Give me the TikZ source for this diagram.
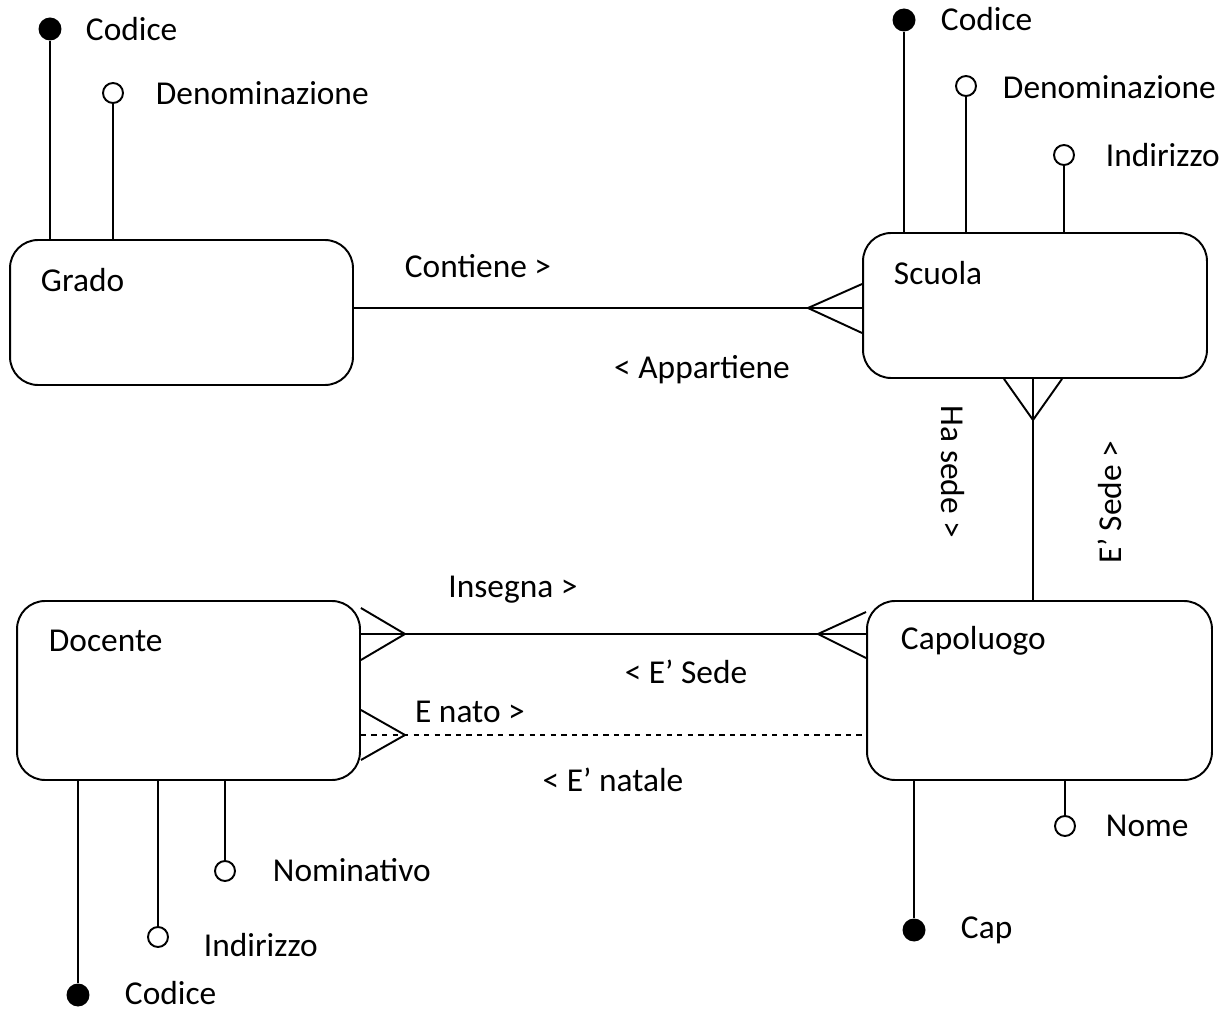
\documentclass[tikz,border=0pt]{standalone}
\usepackage{fontspec}
\setmainfont{Carlito}
\begin{document}
\begin{tikzpicture}[x=0.02cm,y=-0.02cm,line width=1.1pt,
	entity/.style={draw,rounded corners=0.56cm,inner sep=0pt},
	txt/.style={inner sep=0pt,font=\fontsize{19}{23}\selectfont},
	keyattr/.style={circle,fill,inner sep=0pt,minimum size=0.46cm},
	optattr/.style={circle,draw,fill=white,inner sep=0pt,minimum size=0.4cm}]
	\useasboundingbox (0,0) rectangle (1228,1013);
%	entita'
	\node[entity,minimum width=6.86cm,minimum height=2.9cm] (grado) at (181.5,312.5) {};
	\node[entity,minimum width=6.88cm,minimum height=2.9cm] (scuola) at (1035,305.5) {};
	\node[entity,minimum width=6.86cm,minimum height=3.58cm] (docente) at (188.5,690.5) {};
	\node[entity,minimum width=6.9cm,minimum height=3.58cm] (capoluogo) at (1039.5,690.5) {};
	\node[txt,anchor=west] (gradoT) at (40,280) {Grado};
	\node[txt,anchor=west] (scuolaT) at (893,273) {Scuola};
	\node[txt,anchor=west] (docenteT) at (48,641) {Docente};
	\node[txt,anchor=west] (capoluogoT) at (900,641) {Capoluogo};
%	attributi Grado
	\node[keyattr] (gcod) at (50,29) {};
	\node[optattr] (gden) at (113,93) {};
	\draw (gcod) -- (gcod |- grado.north);
	\draw (gden) -- (gden |- grado.north);
	\node[txt,anchor=west] (gcodT) at (85,29) {Codice};
	\node[txt,anchor=west] (gdenT) at (155,93) {Denominazione};
%	attributi Scuola
	\node[keyattr] (scod) at (904,20) {};
	\node[optattr] (sden) at (966,86) {};
	\node[optattr] (sind) at (1064,155) {};
	\draw (scod) -- (scod |- scuola.north);
	\draw (sden) -- (sden |- scuola.north);
	\draw (sind) -- (sind |- scuola.north);
	\node[txt,anchor=west] (scodT) at (940,19) {Codice};
	\node[txt,anchor=west] (sdenT) at (1002,87) {Denominazione};
	\node[txt,anchor=west] (sindT) at (1105,155) {Indirizzo};
%	attributi Docente
	\node[optattr] (dnom) at (225,871) {};
	\node[optattr] (dind) at (158,937) {};
	\node[keyattr] (dcod) at (78,995) {};
	\draw (dnom) -- (dnom |- docente.south);
	\draw (dind) -- (dind |- docente.south);
	\draw (dcod) -- (dcod |- docente.south);
	\node[txt,anchor=west] (dnomT) at (272,870) {Nominativo};
	\node[txt,anchor=west] (dindT) at (203,945) {Indirizzo};
	\node[txt,anchor=west] (dcodT) at (124,993) {Codice};
%	attributi Capoluogo
	\node[optattr] (cnom) at (1065,826) {};
	\node[keyattr] (ccap) at (914,930) {};
	\draw (cnom) -- (cnom |- capoluogo.south);
	\draw (ccap) -- (ccap |- capoluogo.south);
	\node[txt,anchor=west] (cnomT) at (1105,826) {Nome};
	\node[txt,anchor=west] (ccapT) at (960,930) {Cap};
%	Grado - Scuola
	\coordinate (gs) at (808,308);
	\draw (grado.east |- gs) -- (scuola.west |- gs);
	\draw (scuola.west |- 0,284) -- (gs) -- (scuola.west |- 0,333);
	\node[txt] (contiene) at (478,266) {Contiene >};
	\node[txt] (appartiene) at (702,370) {< Appartiene};
%	Scuola - Capoluogo
	\coordinate (sc) at (1033,420);
	\draw (scuola.south -| sc) -- (capoluogo.north -| sc);
	\draw (scuola.south -| 1004,0) -- (sc) -- (scuola.south -| 1062,0);
	\node[txt,rotate=-90] (hasede) at (953,472) {Ha sede >};
	\node[txt,rotate=90] (esede) at (1110,502) {E’ Sede >};
%	Docente - Capoluogo
	\coordinate (dc1) at (405,634);
	\coordinate (dc2) at (818,634);
	\draw (docente.east |- dc1) -- (capoluogo.west |- dc2);
	\draw (docente.east |- 0,608) -- (dc1) -- (docente.east |- 0,660);
	\draw (capoluogo.west |- 0,612) -- (dc2) -- (capoluogo.west |- 0,658);
	\node[txt] (insegna) at (513,590) {Insegna >};
	\node[txt] (esede2) at (686,672) {< E’ Sede};
%	Docente - Capoluogo (natale)
	\coordinate (dn) at (405,735);
	\draw[dashed] (docente.east |- dn) -- (capoluogo.west |- dn);
	\draw (docente.east |- 0,710) -- (dn) -- (docente.east |- 0,760);
	\node[txt] (enato) at (470,712) {E nato >};
	\node[txt] (enatale) at (613,780) {< E’ natale};
\end{tikzpicture}
\end{document}
